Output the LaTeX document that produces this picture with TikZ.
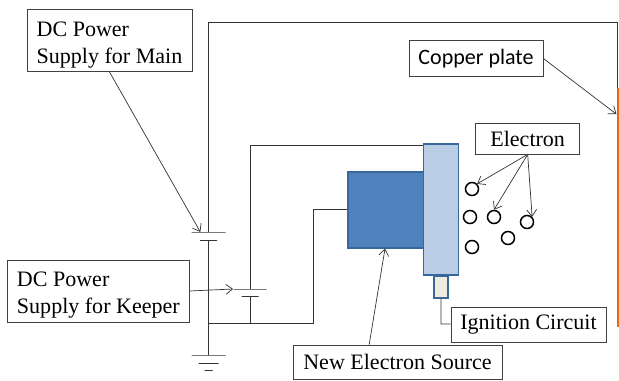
\documentclass[tikz,border=0pt]{standalone}
\usepackage{fontspec}
\setmainfont{Liberation Serif}
\newfontfamily\copperfont{Carlito}
\usepackage{tikz}
\usetikzlibrary{shapes.geometric, arrows.meta, positioning, calc}
\newcommand{\topgap}{\rule{0pt}{20pt}}

\begin{document}
\begin{tikzpicture}[
    node distance=1.5cm,
    tag/.style={rectangle, minimum height=1.05cm, inner sep=0pt, text centered, draw=black!75, line width=0.7pt, fill=white, font=\fontsize{18.8}{23}\selectfont},
    twoline/.style={tag, align=left, minimum height=1.86cm},
    source/.style={rectangle, minimum width=2.28cm, minimum height=2.28cm, inner sep=0pt, draw=edgeblue, line width=1pt, fill=srcblue},
    keeper/.style={rectangle, minimum width=1.035cm, minimum height=3.93cm, inner sep=0pt, draw=edgeblue, line width=1pt, fill=keepblue},
    igniter/.style={rectangle, minimum width=0.42cm, minimum height=0.66cm, inner sep=0pt, draw=edgeblue, line width=1pt, fill=igncream},
    electron/.style={circle, minimum size=0.39cm, inner sep=0pt, draw=black, line width=1.3pt},
    plate/.style={rectangle, minimum height=0pt, inner sep=0pt, draw=black!80, line width=0.7pt},
    wire/.style={draw=black!80, line width=0.7pt},
    arrow/.style={draw=black!80, line width=0.6pt,-{Straight Barb[length=2mm,width=3mm]}}
]
\definecolor{srcblue}{HTML}{4F81BD}
\definecolor{edgeblue}{HTML}{3A679B}
\definecolor{keepblue}{HTML}{B9CDE5}
\definecolor{igncream}{HTML}{EEECE1}
\definecolor{plateorange}{HTML}{E46C0A}

\useasboundingbox (0,0) rectangle (18.57,11.4);

% labels
\node (main) [twoline, minimum width=4.95cm] at (3.285,10.185) {\topgap DC Power\\Supply for Main};
\node (keep) [twoline, minimum width=5.45cm, below of=main, xshift=-0.335cm, yshift=-6.015cm] {\topgap DC Power\\Supply for Keeper};
\node (copper) [tag, minimum width=4.02cm, minimum height=1.08cm, font=\copperfont\fontsize{18.8}{22}\selectfont, right of=main, xshift=9.495cm, yshift=-0.54cm] {Copper plate};
\node (elec) [tag, minimum width=3.12cm, minimum height=0.93cm, below of=copper, xshift=1.55cm, yshift=-0.9cm] {Electron};

% source
\node (block) [source, below of=copper, xshift=-2.7cm, yshift=-3.045cm] {};
\node (body) [keeper, right of=block, xshift=0.15cm, yshift=0.015cm] {};
\node (ign) [igniter, below of=body, yshift=-0.825cm] {};
\node (igncirc) [tag, minimum width=4.65cm, below of=ign, xshift=2.625cm, yshift=0.375cm] {Ignition Circuit};
\node (newsrc) [tag, minimum width=6.27cm, minimum height=1.02cm, below of=block, xshift=0.345cm, yshift=-3.06cm] {New Electron Source};

% copper plate
\node (cu) [rectangle, minimum width=0.12cm, minimum height=7.17cm, inner sep=0pt, fill=plateorange, right of=body, xshift=3.83cm, yshift=0.06cm] {};

% electrons
\node (e1) [electron] at (14.16,5.73) {};
\node (e2) [electron] at (14.1,4.89) {};
\node (e3) [electron] at (14.82,4.89) {};
\node (e4) [electron] at (15.81,4.74) {};
\node (e5) [electron] at (15.24,4.26) {};
\node (e6) [electron] at (14.16,3.99) {};

% batteries and ground
\node (mainp) [plate, minimum width=1.02cm] at (6.26,4.44) {};
\node (mainn) [plate, minimum width=0.51cm, below=0.24cm of mainp] {};
\node (keepp) [plate, minimum width=0.99cm] at (7.5,2.73) {};
\node (keepn) [plate, minimum width=0.51cm, below=0.21cm of keepp] {};
\node (gnda) [plate, minimum width=1.02cm] at (6.26,0.75) {};
\node (gndb) [plate, minimum width=0.6cm, below=0.24cm of gnda] {};
\node (gndc) [plate, minimum width=0.24cm, below=0.18cm of gndb] {};

\coordinate (junction) at (6.26,1.71);
\coordinate (keepfoot) at (7.5,1.71);
\coordinate (topleft) at (6.26,10.74);
\coordinate (topright) at (18.53,10.74);
\coordinate (keeptop) at (7.5,7.05);
\coordinate (blockfoot) at (9.39,1.71);
\coordinate (blockelbow) at (9.39,5.13);
\coordinate (ignelbow) at (13.23,1.68);

% wires
\draw [wire] (mainp.center) -- (topleft) -- (topright) -- (topright |- cu.north);
\draw [wire] (mainn.center) -- (gnda.center);
\draw [wire] (keepp.center) -- (keeptop) -- (keeptop -| body.west);
\draw [wire] (keepn.center) -- (keepfoot);
\draw [wire] (junction) -- (blockfoot) -- (blockelbow) -- (blockelbow -| block.west);
\draw [wire] (ign.south) -- (ignelbow) -- (ignelbow -| igncirc.west);

% arrows
\draw [arrow] (main.south) -- ($(mainp.center)+(-0.25,0)$);
\draw [arrow] (keep.east) -- (keepp.west);
\draw [arrow] (copper.east) -- ($(cu.west)+(0,2.8)$);
\draw [arrow] (elec.south) -- (e1.north east);
\draw [arrow] (elec.south) -- (e3.north);
\draw [arrow] (elec.south) -- (e4.north east);
\draw [arrow] ($(newsrc.north)+(-0.85,0)$) -- ($(block.south)+(-0.03,0)$);

\end{tikzpicture}
\end{document}
